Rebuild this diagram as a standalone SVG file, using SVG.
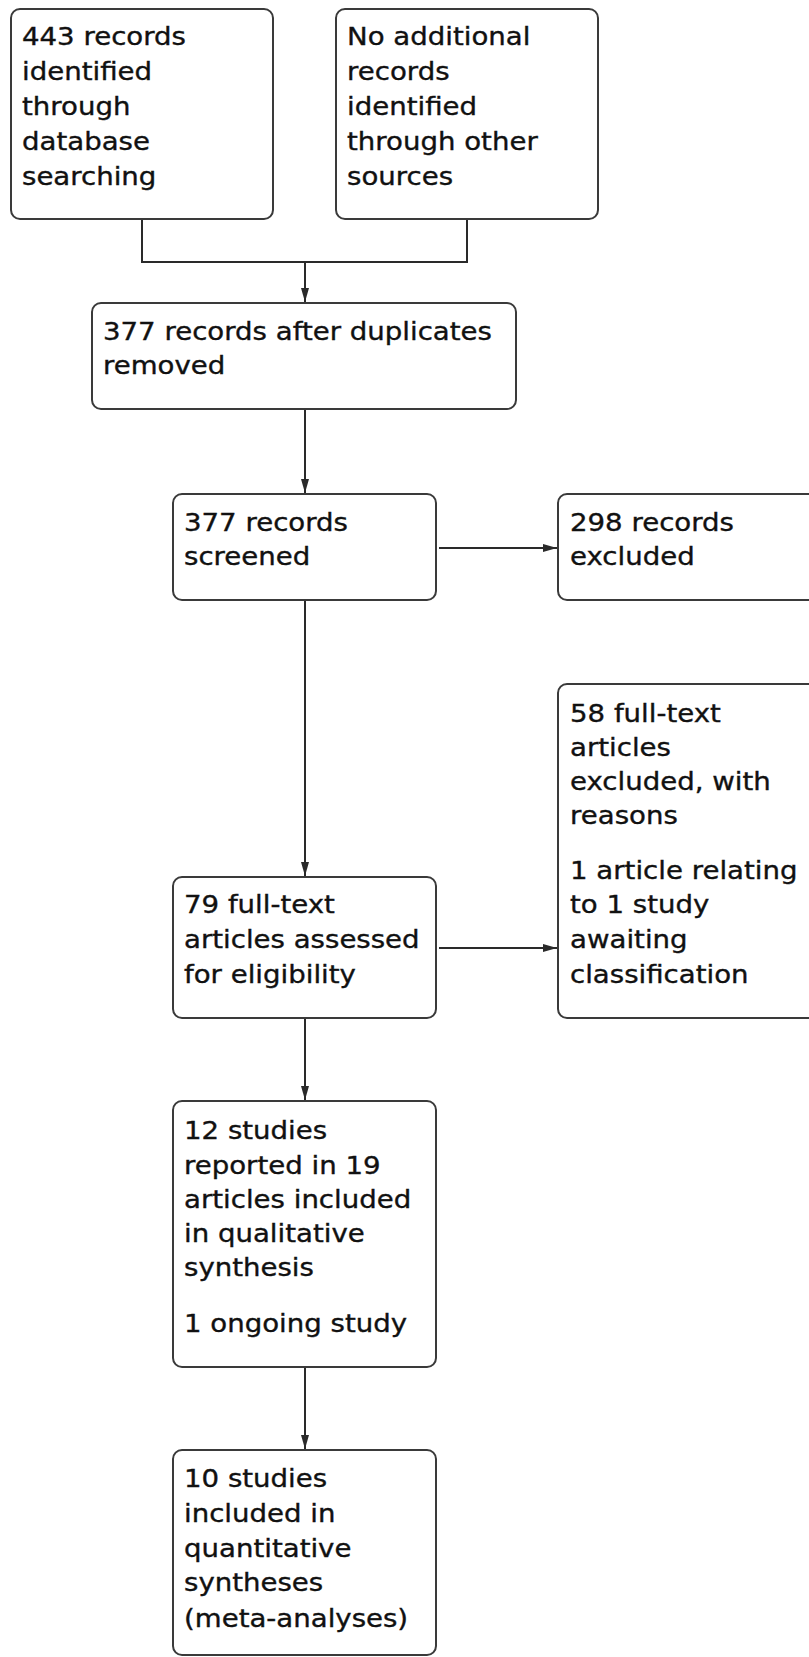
<svg xmlns="http://www.w3.org/2000/svg" width="809" height="1657" viewBox="0 0 809 1657">
<style>
.box{fill:#fff;stroke:#3a3a3a;stroke-width:2}
.t{font-family:"DejaVu Sans","Liberation Sans",sans-serif;font-size:24px;fill:#111;stroke:#111;stroke-width:0.35}
.c{fill:none;stroke:#2a2a2a;stroke-width:2}
</style>
<defs>
<marker id="ah" markerUnits="userSpaceOnUse" markerWidth="14" markerHeight="10" refX="14" refY="5" orient="auto">
<path d="M0,1 L14,5 L0,9 z" fill="#2a2a2a"/>
</marker>
</defs>
<rect width="809" height="1657" fill="#fff"/>
<g id="connectors">
<path class="c" d="M142 219 V262 H467 V219"/>
<path class="c" d="M305 262 V302" marker-end="url(#ah)"/>
<path class="c" d="M305 409 V493" marker-end="url(#ah)"/>
<path class="c" d="M439 548 H557" marker-end="url(#ah)"/>
<path class="c" d="M305 600 V876" marker-end="url(#ah)"/>
<path class="c" d="M439 948 H557" marker-end="url(#ah)"/>
<path class="c" d="M305 1018 V1100" marker-end="url(#ah)"/>
<path class="c" d="M305 1367 V1449" marker-end="url(#ah)"/>
</g>
<g id="n1">
<rect class="box" x="11" y="9" width="262" height="210" rx="9"/>
<text class="t" transform="matrix(1.15 0 0 1 22 0)"><tspan x="0" y="45">443 records</tspan><tspan x="0" y="80">identified</tspan><tspan x="0" y="115">through</tspan><tspan x="0" y="150">database</tspan><tspan x="0" y="185">searching</tspan></text>
</g>
<g id="n2">
<rect class="box" x="336" y="9" width="262" height="210" rx="9"/>
<text class="t" transform="matrix(1.15 0 0 1 347 0)"><tspan x="0" y="45">No additional</tspan><tspan x="0" y="80">records</tspan><tspan x="0" y="115">identified</tspan><tspan x="0" y="150">through other</tspan><tspan x="0" y="185">sources</tspan></text>
</g>
<g id="n3">
<rect class="box" x="92" y="303" width="424" height="106" rx="9"/>
<text class="t" transform="matrix(1.15 0 0 1 103 0)"><tspan x="0" y="340">377 records after duplicates</tspan><tspan x="0" y="374">removed</tspan></text>
</g>
<g id="n4">
<rect class="box" x="173" y="494" width="263" height="106" rx="9"/>
<text class="t" transform="matrix(1.15 0 0 1 184 0)"><tspan x="0" y="531">377 records</tspan><tspan x="0" y="565">screened</tspan></text>
</g>
<g id="n5">
<rect class="box" x="558" y="494" width="280" height="106" rx="9"/>
<text class="t" transform="matrix(1.15 0 0 1 570 0)"><tspan x="0" y="531">298 records</tspan><tspan x="0" y="565">excluded</tspan></text>
</g>
<g id="n6">
<rect class="box" x="558" y="684" width="280" height="334" rx="9"/>
<text class="t" transform="matrix(1.15 0 0 1 570 0)"><tspan x="0" y="722">58 full-text</tspan><tspan x="0" y="756">articles</tspan><tspan x="0" y="790">excluded, with</tspan><tspan x="0" y="824">reasons</tspan><tspan x="0" y="879">1 article relating</tspan><tspan x="0" y="913">to 1 study</tspan><tspan x="0" y="948">awaiting</tspan><tspan x="0" y="983">classification</tspan></text>
</g>
<g id="n7">
<rect class="box" x="173" y="877" width="263" height="141" rx="9"/>
<text class="t" transform="matrix(1.15 0 0 1 184 0)"><tspan x="0" y="913">79 full-text</tspan><tspan x="0" y="948">articles assessed</tspan><tspan x="0" y="983">for eligibility</tspan></text>
</g>
<g id="n8">
<rect class="box" x="173" y="1101" width="263" height="266" rx="9"/>
<text class="t" transform="matrix(1.15 0 0 1 184 0)"><tspan x="0" y="1139">12 studies</tspan><tspan x="0" y="1174">reported in 19</tspan><tspan x="0" y="1208">articles included</tspan><tspan x="0" y="1242">in qualitative</tspan><tspan x="0" y="1276">synthesis</tspan><tspan x="0" y="1332">1 ongoing study</tspan></text>
</g>
<g id="n9">
<rect class="box" x="173" y="1450" width="263" height="205" rx="9"/>
<text class="t" transform="matrix(1.15 0 0 1 184 0)"><tspan x="0" y="1487">10 studies</tspan><tspan x="0" y="1522">included in</tspan><tspan x="0" y="1557">quantitative</tspan><tspan x="0" y="1591">syntheses</tspan><tspan x="0" y="1627">(meta-analyses)</tspan></text>
</g>
</svg>
